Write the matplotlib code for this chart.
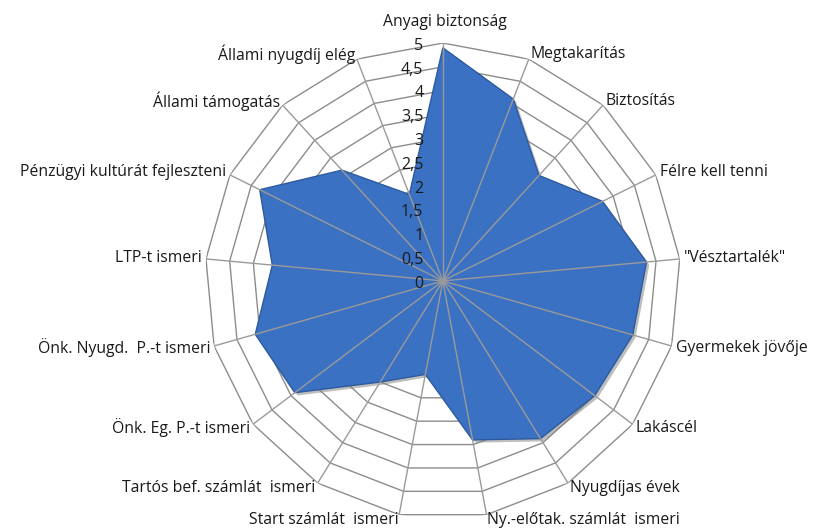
import numpy as np
import matplotlib
matplotlib.use("Agg")
import matplotlib.pyplot as plt
import matplotlib.patheffects as pe

categories = ["Anyagi biztonság", "Megtakarítás", "Biztosítás", "Félre kell tenni",
              "\"Vésztartalék\"", "Gyermekek jövője", "Lakáscél", "Nyugdíjas évek",
              "Ny.-előtak. számlát  ismeri", "Start számlát  ismeri",
              "Tartós bef. számlát  ismeri", "Önk. Eg. P.-t ismeri",
              "Önk. Nyugd.  P.-t ismeri", "LTP-t ismeri",
              "Pénzügyi kultúrát fejleszteni", "Állami támogatás", "Állami nyugdíj elég"]
values = [4.9, 4.1, 3.0, 3.75, 4.3, 4.15, 4.0, 3.9, 3.4, 2.0,
          2.5, 3.9, 4.1, 3.6, 4.3, 3.15, 1.95]
rings = [0, 0.5, 1, 1.5, 2, 2.5, 3, 3.5, 4, 4.5, 5]
ring_labels = ["0", "0,5", "1", "1,5", "2", "2,5", "3", "3,5", "4", "4,5", "5"]

plt.rcParams['font.family'] = ['Open Sans', 'DejaVu Sans']

n = len(categories)
theta = np.arange(n) * 2 * np.pi / n
theta_c = np.append(theta, theta[0])
vals_c = np.append(values, values[0])

fig = plt.figure(figsize=(8.16, 5.29), dpi=100)
ax = fig.add_axes([0.2512, 0.019, 0.583, 0.9], projection='polar')
ax.set_theta_zero_location('N')
ax.set_theta_direction(-1)
ax.set_ylim(0, 5)
ax.grid(False)
ax.spines['polar'].set_visible(False)
ax.set_xticks([])
ax.set_yticks([])
ax.patch.set_alpha(0)

# polygon rings
for r in rings[1:]:
    ax.plot(theta_c, [r] * (n + 1), color='#8c8c8c', lw=1.0, zorder=1)

# data area
ax.fill(theta_c, vals_c, facecolor='#3b71c2', edgecolor='#2d5a9e', lw=1.0, zorder=2,
        path_effects=[pe.SimplePatchShadow(offset=(2, -2), shadow_rgbFace='#7f7f7f', alpha=0.5),
                      pe.Normal()])

# spokes
for t in theta:
    ax.plot([t, t], [0, 5], color='#9a9a9a', lw=1.0, zorder=3)

# radial labels
for r, lab in zip(rings, ring_labels):
    ax.annotate(lab, xy=(0, r), xytext=(-14, -2), textcoords='offset points',
                ha='right', va='center', fontsize=11.5, color='#1a1a1a', zorder=4)

# category labels
for t, lab in zip(theta, categories):
    s, c = np.sin(t), np.cos(t)
    if abs(s) < 0.05:
        ha = 'center'
        off = (1.5, 15.5)
    else:
        ha = 'left' if s > 0 else 'right'
        off = (3 * s, 4 * c)
    ax.annotate(lab, xy=(t, 5), xytext=off, textcoords='offset points',
                ha=ha, va='center', fontsize=11.3, color='#1a1a1a',
                annotation_clip=False)

fig.savefig('out.png', dpi=100)
